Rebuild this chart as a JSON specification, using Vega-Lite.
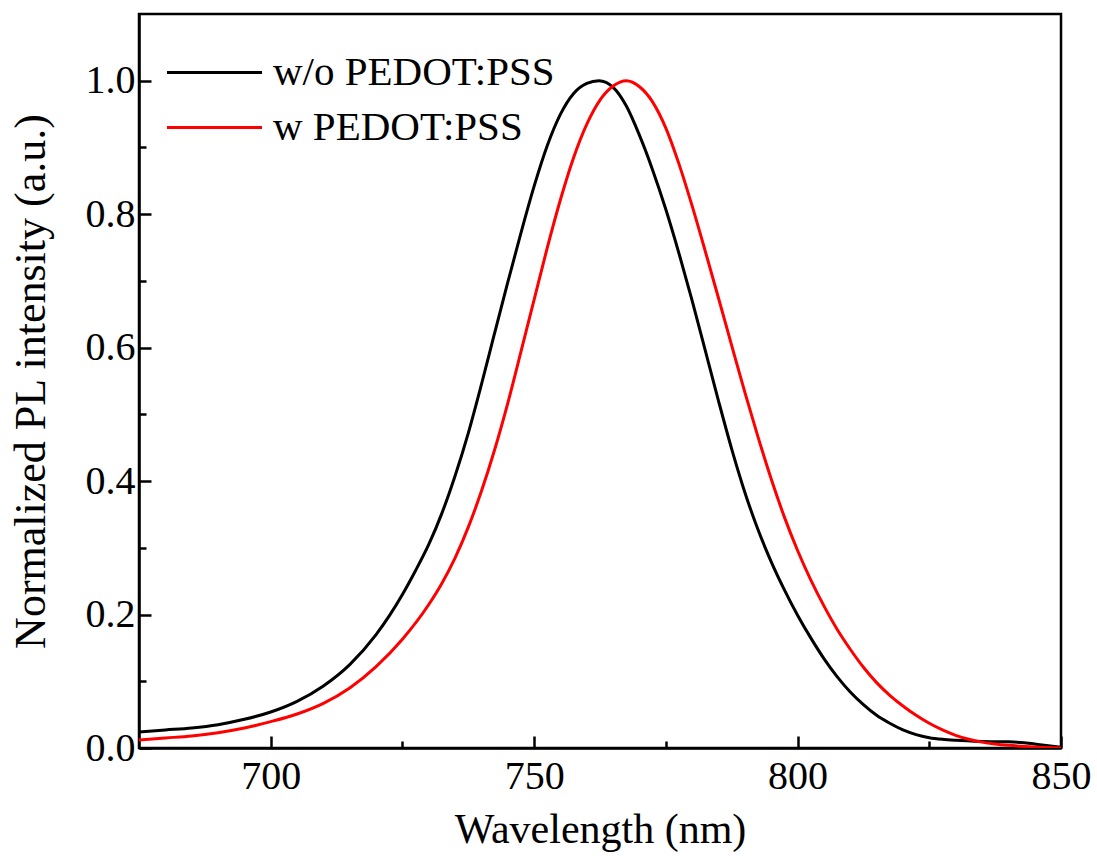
{
  "$schema": "https://vega.github.io/schema/vega-lite/v6.json",
  "width": 922,
  "height": 734,
  "autosize": {"type": "none"},
  "padding": {"left": 139, "top": 14, "right": 36, "bottom": 108},
  "background": "white",
  "config": {
    "view": {"stroke": "black", "strokeWidth": 2.5},
    "font": "Liberation Serif",
    "axis": {
      "domainColor": "black",
      "domainWidth": 2.5,
      "tickColor": "black",
      "tickWidth": 2.5,
      "labelFont": "Liberation Serif",
      "labelFontSize": 40,
      "labelColor": "black",
      "titleFont": "Liberation Serif",
      "titleFontSize": 42,
      "titleFontWeight": "normal",
      "titleColor": "black",
      "grid": false
    },
    "legend": {
      "labelFont": "Liberation Serif",
      "labelFontSize": 41,
      "labelColor": "black"
    }
  },
  "data": {
    "values": [
      {"wl": 675, "v": 0.024, "s": "w/o PEDOT:PSS"},
      {"wl": 680, "v": 0.027, "s": "w/o PEDOT:PSS"},
      {"wl": 685, "v": 0.030, "s": "w/o PEDOT:PSS"},
      {"wl": 690, "v": 0.035, "s": "w/o PEDOT:PSS"},
      {"wl": 695, "v": 0.043, "s": "w/o PEDOT:PSS"},
      {"wl": 700, "v": 0.054, "s": "w/o PEDOT:PSS"},
      {"wl": 705, "v": 0.070, "s": "w/o PEDOT:PSS"},
      {"wl": 710, "v": 0.093, "s": "w/o PEDOT:PSS"},
      {"wl": 715, "v": 0.125, "s": "w/o PEDOT:PSS"},
      {"wl": 720, "v": 0.170, "s": "w/o PEDOT:PSS"},
      {"wl": 722.5, "v": 0.198, "s": "w/o PEDOT:PSS"},
      {"wl": 725, "v": 0.230, "s": "w/o PEDOT:PSS"},
      {"wl": 727.5, "v": 0.266, "s": "w/o PEDOT:PSS"},
      {"wl": 730, "v": 0.305, "s": "w/o PEDOT:PSS"},
      {"wl": 732.5, "v": 0.352, "s": "w/o PEDOT:PSS"},
      {"wl": 735, "v": 0.408, "s": "w/o PEDOT:PSS"},
      {"wl": 737.5, "v": 0.472, "s": "w/o PEDOT:PSS"},
      {"wl": 740, "v": 0.545, "s": "w/o PEDOT:PSS"},
      {"wl": 742.5, "v": 0.622, "s": "w/o PEDOT:PSS"},
      {"wl": 745, "v": 0.698, "s": "w/o PEDOT:PSS"},
      {"wl": 747.5, "v": 0.772, "s": "w/o PEDOT:PSS"},
      {"wl": 750, "v": 0.842, "s": "w/o PEDOT:PSS"},
      {"wl": 752.5, "v": 0.903, "s": "w/o PEDOT:PSS"},
      {"wl": 755, "v": 0.950, "s": "w/o PEDOT:PSS"},
      {"wl": 757.5, "v": 0.981, "s": "w/o PEDOT:PSS"},
      {"wl": 760, "v": 0.996, "s": "w/o PEDOT:PSS"},
      {"wl": 762.3, "v": 1.0, "s": "w/o PEDOT:PSS"},
      {"wl": 765, "v": 0.990, "s": "w/o PEDOT:PSS"},
      {"wl": 767.5, "v": 0.962, "s": "w/o PEDOT:PSS"},
      {"wl": 770, "v": 0.918, "s": "w/o PEDOT:PSS"},
      {"wl": 772.5, "v": 0.866, "s": "w/o PEDOT:PSS"},
      {"wl": 775, "v": 0.807, "s": "w/o PEDOT:PSS"},
      {"wl": 777.5, "v": 0.741, "s": "w/o PEDOT:PSS"},
      {"wl": 780, "v": 0.670, "s": "w/o PEDOT:PSS"},
      {"wl": 782.5, "v": 0.595, "s": "w/o PEDOT:PSS"},
      {"wl": 785, "v": 0.520, "s": "w/o PEDOT:PSS"},
      {"wl": 787.5, "v": 0.448, "s": "w/o PEDOT:PSS"},
      {"wl": 790, "v": 0.383, "s": "w/o PEDOT:PSS"},
      {"wl": 792.5, "v": 0.327, "s": "w/o PEDOT:PSS"},
      {"wl": 795, "v": 0.279, "s": "w/o PEDOT:PSS"},
      {"wl": 797.5, "v": 0.237, "s": "w/o PEDOT:PSS"},
      {"wl": 800, "v": 0.199, "s": "w/o PEDOT:PSS"},
      {"wl": 802.5, "v": 0.165, "s": "w/o PEDOT:PSS"},
      {"wl": 805, "v": 0.134, "s": "w/o PEDOT:PSS"},
      {"wl": 807.5, "v": 0.107, "s": "w/o PEDOT:PSS"},
      {"wl": 810, "v": 0.084, "s": "w/o PEDOT:PSS"},
      {"wl": 812.5, "v": 0.065, "s": "w/o PEDOT:PSS"},
      {"wl": 815, "v": 0.049, "s": "w/o PEDOT:PSS"},
      {"wl": 817.5, "v": 0.037, "s": "w/o PEDOT:PSS"},
      {"wl": 820, "v": 0.027, "s": "w/o PEDOT:PSS"},
      {"wl": 822.5, "v": 0.020, "s": "w/o PEDOT:PSS"},
      {"wl": 825, "v": 0.0155, "s": "w/o PEDOT:PSS"},
      {"wl": 827.5, "v": 0.013, "s": "w/o PEDOT:PSS"},
      {"wl": 830, "v": 0.0115, "s": "w/o PEDOT:PSS"},
      {"wl": 835, "v": 0.0098, "s": "w/o PEDOT:PSS"},
      {"wl": 840, "v": 0.0092, "s": "w/o PEDOT:PSS"},
      {"wl": 843, "v": 0.008, "s": "w/o PEDOT:PSS"},
      {"wl": 846, "v": 0.005, "s": "w/o PEDOT:PSS"},
      {"wl": 850, "v": 0.001, "s": "w/o PEDOT:PSS"},
      {"wl": 675, "v": 0.012, "s": "w PEDOT:PSS"},
      {"wl": 680, "v": 0.015, "s": "w PEDOT:PSS"},
      {"wl": 685, "v": 0.018, "s": "w PEDOT:PSS"},
      {"wl": 690, "v": 0.023, "s": "w PEDOT:PSS"},
      {"wl": 695, "v": 0.030, "s": "w PEDOT:PSS"},
      {"wl": 700, "v": 0.0395, "s": "w PEDOT:PSS"},
      {"wl": 705, "v": 0.051, "s": "w PEDOT:PSS"},
      {"wl": 710, "v": 0.067, "s": "w PEDOT:PSS"},
      {"wl": 715, "v": 0.090, "s": "w PEDOT:PSS"},
      {"wl": 720, "v": 0.122, "s": "w PEDOT:PSS"},
      {"wl": 725, "v": 0.163, "s": "w PEDOT:PSS"},
      {"wl": 730, "v": 0.215, "s": "w PEDOT:PSS"},
      {"wl": 732.5, "v": 0.247, "s": "w PEDOT:PSS"},
      {"wl": 735, "v": 0.285, "s": "w PEDOT:PSS"},
      {"wl": 737.5, "v": 0.331, "s": "w PEDOT:PSS"},
      {"wl": 740, "v": 0.385, "s": "w PEDOT:PSS"},
      {"wl": 742.5, "v": 0.447, "s": "w PEDOT:PSS"},
      {"wl": 745, "v": 0.517, "s": "w PEDOT:PSS"},
      {"wl": 747.5, "v": 0.594, "s": "w PEDOT:PSS"},
      {"wl": 750, "v": 0.672, "s": "w PEDOT:PSS"},
      {"wl": 752.5, "v": 0.750, "s": "w PEDOT:PSS"},
      {"wl": 755, "v": 0.822, "s": "w PEDOT:PSS"},
      {"wl": 757.5, "v": 0.885, "s": "w PEDOT:PSS"},
      {"wl": 760, "v": 0.935, "s": "w PEDOT:PSS"},
      {"wl": 762.5, "v": 0.971, "s": "w PEDOT:PSS"},
      {"wl": 765, "v": 0.992, "s": "w PEDOT:PSS"},
      {"wl": 767.5, "v": 1.0, "s": "w PEDOT:PSS"},
      {"wl": 770, "v": 0.991, "s": "w PEDOT:PSS"},
      {"wl": 772.5, "v": 0.968, "s": "w PEDOT:PSS"},
      {"wl": 775, "v": 0.929, "s": "w PEDOT:PSS"},
      {"wl": 777.5, "v": 0.875, "s": "w PEDOT:PSS"},
      {"wl": 780, "v": 0.812, "s": "w PEDOT:PSS"},
      {"wl": 782.5, "v": 0.744, "s": "w PEDOT:PSS"},
      {"wl": 785, "v": 0.674, "s": "w PEDOT:PSS"},
      {"wl": 787.5, "v": 0.603, "s": "w PEDOT:PSS"},
      {"wl": 790, "v": 0.533, "s": "w PEDOT:PSS"},
      {"wl": 792.5, "v": 0.466, "s": "w PEDOT:PSS"},
      {"wl": 795, "v": 0.403, "s": "w PEDOT:PSS"},
      {"wl": 797.5, "v": 0.346, "s": "w PEDOT:PSS"},
      {"wl": 800, "v": 0.296, "s": "w PEDOT:PSS"},
      {"wl": 802.5, "v": 0.252, "s": "w PEDOT:PSS"},
      {"wl": 805, "v": 0.213, "s": "w PEDOT:PSS"},
      {"wl": 807.5, "v": 0.178, "s": "w PEDOT:PSS"},
      {"wl": 810, "v": 0.148, "s": "w PEDOT:PSS"},
      {"wl": 812.5, "v": 0.121, "s": "w PEDOT:PSS"},
      {"wl": 815, "v": 0.098, "s": "w PEDOT:PSS"},
      {"wl": 817.5, "v": 0.079, "s": "w PEDOT:PSS"},
      {"wl": 820, "v": 0.063, "s": "w PEDOT:PSS"},
      {"wl": 822.5, "v": 0.049, "s": "w PEDOT:PSS"},
      {"wl": 825, "v": 0.037, "s": "w PEDOT:PSS"},
      {"wl": 827.5, "v": 0.027, "s": "w PEDOT:PSS"},
      {"wl": 830, "v": 0.019, "s": "w PEDOT:PSS"},
      {"wl": 832.5, "v": 0.013, "s": "w PEDOT:PSS"},
      {"wl": 835, "v": 0.0088, "s": "w PEDOT:PSS"},
      {"wl": 837.5, "v": 0.006, "s": "w PEDOT:PSS"},
      {"wl": 840, "v": 0.004, "s": "w PEDOT:PSS"},
      {"wl": 845, "v": 0.0015, "s": "w PEDOT:PSS"},
      {"wl": 850, "v": 0.0, "s": "w PEDOT:PSS"}
    ]
  },
  "mark": {"type": "line", "strokeWidth": 3, "interpolate": "monotone", "clip": true},
  "encoding": {
    "x": {
      "field": "wl",
      "type": "quantitative",
      "scale": {"domain": [675, 850], "nice": false, "zero": false},
      "axis": {
        "title": "Wavelength (nm)",
        "values": [700, 725, 750, 775, 800, 825, 850],
        "labelExpr": "datum.value % 50 === 0 ? datum.label : ''",
        "format": "d",
        "tickSize": {"condition": {"test": "datum.value % 50 === 0", "value": -12}, "value": -7},
        "labelPadding": 20,
        "titlePadding": 8,
        "labelFlush": false,
        "labelOverlap": false
      }
    },
    "y": {
      "field": "v",
      "type": "quantitative",
      "scale": {"domain": [0, 1.1], "nice": false},
      "axis": {
        "title": "Normalized PL intensity (a.u.)",
        "titleFontSize": 44,
        "values": [0, 0.1, 0.2, 0.3, 0.4, 0.5, 0.6, 0.7, 0.8, 0.9, 1.0],
        "labelExpr": "round(datum.value * 10) % 2 === 0 ? format(datum.value, '.1f') : ''",
        "tickSize": {"condition": {"test": "round(datum.value * 10) % 2 === 0", "value": -12}, "value": -7},
        "labelPadding": 16,
        "titlePadding": 32,
        "labelFlush": false,
        "labelOverlap": false
      }
    },
    "color": {
      "field": "s",
      "type": "nominal",
      "sort": ["w/o PEDOT:PSS", "w PEDOT:PSS"],
      "scale": {"domain": ["w/o PEDOT:PSS", "w PEDOT:PSS"], "range": ["#000000", "#ff0000"]},
      "legend": {
        "title": null,
        "orient": "none",
        "legendX": 47,
        "legendY": 30,
        "symbolType": "M-1.76,0H1.76",
        "symbolSize": 2916,
        "symbolStrokeWidth": 3,
        "labelOffset": 30,
        "rowPadding": 6,
        "padding": 0,
        "labelLimit": 500
      }
    }
  }
}
